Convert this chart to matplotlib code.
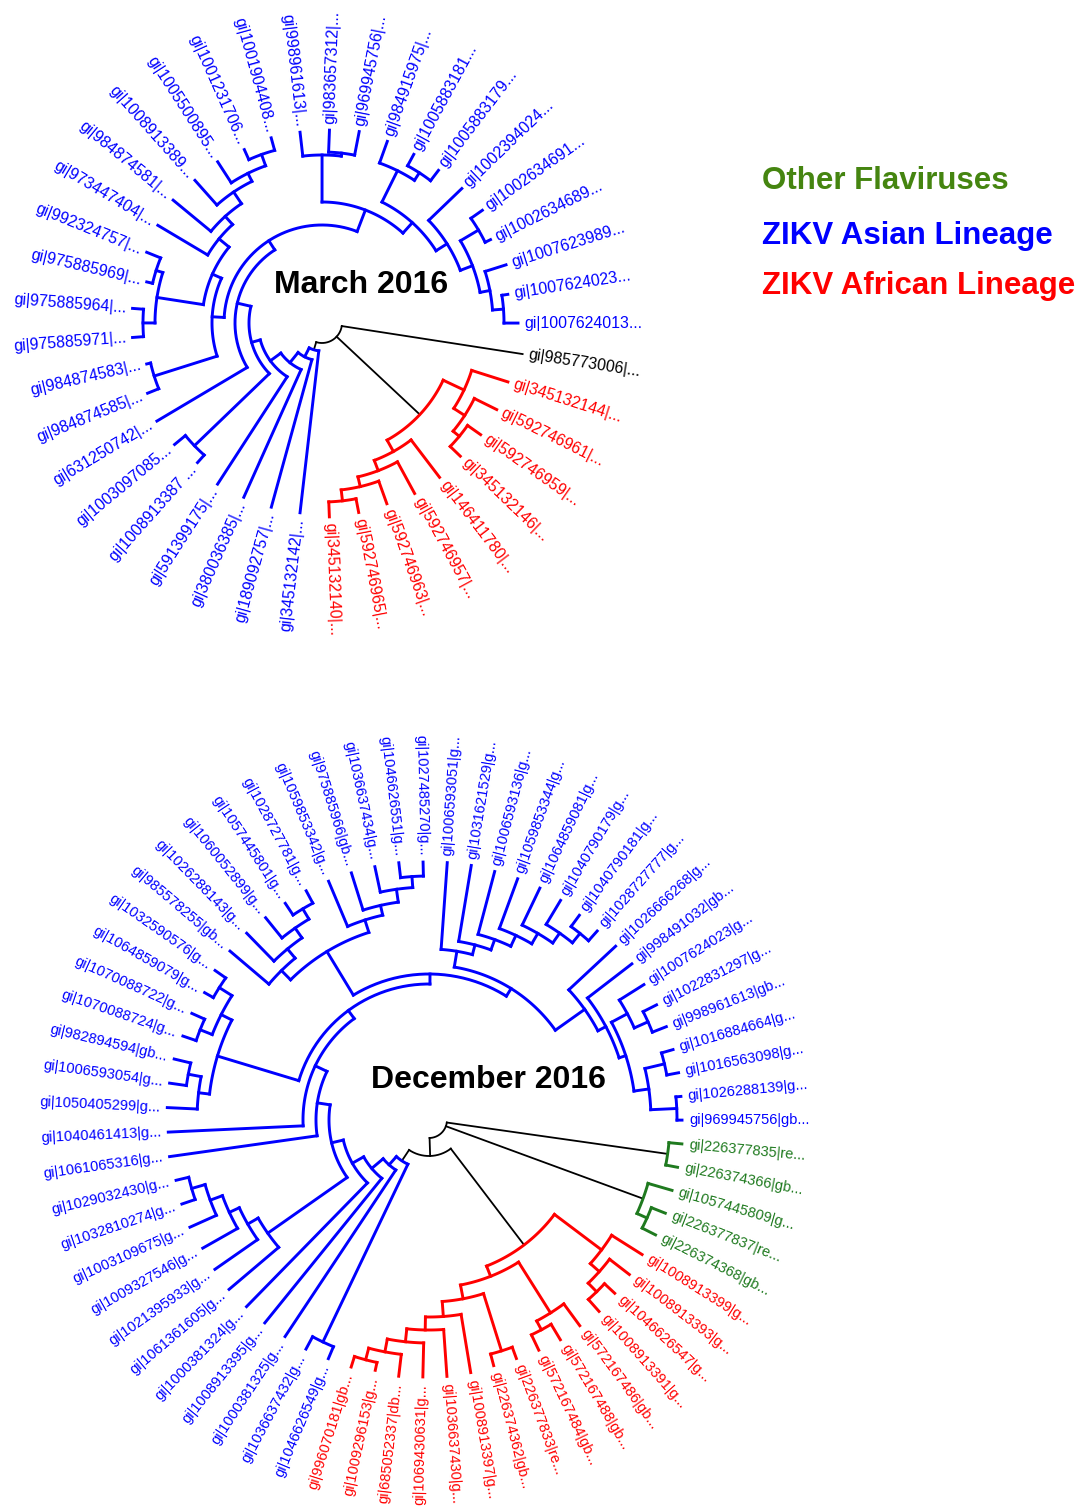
import numpy as np
import matplotlib
matplotlib.use("Agg")
import matplotlib.pyplot as plt

plt.rcParams['font.family'] = ['Liberation Sans', 'DejaVu Sans']

W, H = 1079, 1506

COLOURS = {'asian': '#0000ff', 'african': '#ff0000', 'other': '#1f7a1f', 'none': 'black'}

# ---- March 2016 tree (branch lengths in tree units) ----
MARCH_AFRICAN = ("((345132144:38,(592746961:25,(592746959:16,345132146:14):8):13):23,"
                 "(146411780:47,(592746957:36,(592746963:24,(592746965:14,345132140:15):11):10):11):13)")
MARCH_ASIAN_LEFT = ("((984874585:12,984874583:4):66,(((975885971:11,975885964:11):12,"
                    "(975885969:6,992324757:15):7):47,(973447404:58,(984874581:49,(1008913389:33,"
                    "(1005500895:25,(1001231706:11,1001904408:13):12):9):14):11):13):10)")
MARCH_ASIAN_TOP = ("((998961613:24,(983657312:22,969945756:24):3):47,((984915975:23,"
                   "(1005883181:13,1005883179:13):9):35,(1002394024:46,((1002634691:14,1002634689:6):21,"
                   "(1007623989:22,(1007624023:6,1007624013:14):11):10):13):13):14)")
MARCH_ASIAN = ("(345132142:163,(189092757:153,(380036385:140,(591399175:128,"
               "((1008913387:10,1003097085:14):104,(631250742:105,"
               f"({MARCH_ASIAN_LEFT}:12,{MARCH_ASIAN_TOP}:23):11):14):9):13):13):10)")
MARCH_NEWICK = f"(985773006:183,{MARCH_AFRICAN}:114,{MARCH_ASIAN}:8):20;"

MARCH_LABELS = [
    "gi|985773006|...",
    "gi|345132144|...", "gi|592746961|...", "gi|592746959|...", "gi|345132146|...",
    "gi|146411780|...", "gi|592746957|...", "gi|592746963|...", "gi|592746965|...",
    "gi|345132140|...",
    "gi|345132142|...", "gi|189092757|...", "gi|380036385|...", "gi|591399175|...",
    "gi|1008913387 ...", "gi|1003097085...", "gi|631250742|...", "gi|984874585|...",
    "gi|984874583|...", "gi|975885971|...", "gi|975885964|...", "gi|975885969|...",
    "gi|992324757|...", "gi|973447404|...", "gi|984874581|...", "gi|1008913389...",
    "gi|1005500895...", "gi|1001231706...", "gi|1001904408...", "gi|998961613|...",
    "gi|983657312|...", "gi|969945756|...", "gi|984915975|...", "gi|1005883181...",
    "gi|1005883179...", "gi|1002394024...", "gi|1002634691...", "gi|1002634689...",
    "gi|1007623989...", "gi|1007624023...", "gi|1007624013...",
]
MARCH_GROUPS = ['none'] + ['african'] * 9 + ['asian'] * 31

# ---- December 2016 tree ----
DEC_AFRICAN = ("((1008913399:36,(1008913393:25,(1046626547:14,1008913391:16):12):12):59,"
               "((572167486:27,(572167488:18,572167484:17):10):60,((226377833:12,226374362:12):60,"
               "(1008913397:59,(1036637430:47,(1069430631:34,(685052337:22,(1009296153:8,"
               "996070181:11):12):13):13):13):15):14):11)")
DEC_COMB = ("(1061361605:65,(1021395933:52,(1009327546:40,(1003109675:29,"
            "(1032810274:14,1029032430:13):14):13):11):12)")
DEC_LEFT = ("((1050405299:30,(1006593054:17,982894594:17):13):11,"
            "((1070088724:14,1070088722:14):13,(1064859079:10,1032590576:13):15):12)")
DEC_UPPER = ("((985578255:51,(1026288143:39,(1060052899:26,(1057445801:14,1028727781:14):12):12):12):13,"
             "(1059853342:49,(975885966:39,(1036637434:26,(1046626551:15,1027485270:14):11):13):10):13)")
DEC_TOP = ("(1006593051:87,(1031621529:77,(1006593136:65,(1059853344:53,(1064859081:41,"
           "(1040790179:28,(1040790181:14,1028727777:13):12):12):12):12):11):10)")
DEC_RIGHT = ("(1026666268:64,(998491032:56,((1007624023:29,(1022831297:15,998961613:15):15):18,"
             "((1016884664:12,1016563098:12):20,(1026288139:5,969945756:5):26):15):7):9)")
DEC_ASIAN = ("((1046626549:13,1036637432:14):197,(1000381325:200,(1008913395:186,(1000381324:173,"
             f"({DEC_COMB}:97,(1061065316:149,(1040461413:135,({DEC_LEFT}:85,"
             f"({DEC_UPPER}:51,({DEC_TOP}:16,{DEC_RIGHT}:36):9):10):10):13):13):12):13):15):11)")
DEC_NEWICK = ("((226377835:13,226374366:12):223,(1057445809:25,(226377837:15,226374368:15):11):210,"
              f"({DEC_AFRICAN}:121,{DEC_ASIAN}:13):18):18;")

DEC_LABELS = [
    "gi|226377835|re...", "gi|226374366|gb...", "gi|1057445809|g...", "gi|226377837|re...",
    "gi|226374368|gb...",
    "gi|1008913399|g...", "gi|1008913393|g...", "gi|1046626547|g...", "gi|1008913391|g...",
    "gi|572167486|gb...", "gi|572167488|gb...", "gi|572167484|gb...", "gi|226377833|re...",
    "gi|226374362|gb...", "gi|1008913397|g...", "gi|1036637430|g...", "gi|1069430631|g...",
    "gi|685052337|db...", "gi|1009296153|g...", "gi|996070181|gb...",
    "gi|1046626549|g...", "gi|1036637432|g...", "gi|1000381325|g...", "gi|1008913395|g...",
    "gi|1000381324|g...", "gi|1061361605|g...", "gi|1021395933|g...", "gi|1009327546|g...",
    "gi|1003109675|g...", "gi|1032810274|g...", "gi|1029032430|g...", "gi|1061065316|g...",
    "gi|1040461413|g...", "gi|1050405299|g...", "gi|1006593054|g...", "gi|982894594|gb...",
    "gi|1070088724|g...", "gi|1070088722|g...", "gi|1064859079|g...", "gi|1032590576|g...",
    "gi|985578255|gb...", "gi|1026288143|g...", "gi|1060052899|g...", "gi|1057445801|g...",
    "gi|1028727781|g...", "gi|1059853342|g...", "gi|975885966|gb...", "gi|1036637434|g...",
    "gi|1046626551|g...", "gi|1027485270|g...", "gi|1006593051|g...", "gi|1031621529|g...",
    "gi|1006593136|g...", "gi|1059853344|g...", "gi|1064859081|g...", "gi|1040790179|g...",
    "gi|1040790181|g...", "gi|1028727777|g...", "gi|1026666268|g...", "gi|998491032|gb...",
    "gi|1007624023|g...", "gi|1022831297|g...", "gi|998961613|gb...", "gi|1016884664|g...",
    "gi|1016563098|g...", "gi|1026288139|g...", "gi|969945756|gb...",
]
DEC_GROUPS = ['other'] * 5 + ['african'] * 15 + ['asian'] * 47

LEGEND = [("Other Flaviruses", '#458510'), ("ZIKV Asian Lineage", '#0000ff'),
          ("ZIKV African Lineage", '#ff0000')]


def parse_newick(text):
    text = "".join(text.split()).rstrip(';')
    pos = 0

    def node():
        nonlocal pos
        n = {'children': [], 'name': '', 'length': 0.0}
        if text[pos] == '(':
            pos += 1
            while True:
                n['children'].append(node())
                if text[pos] == ',':
                    pos += 1
                    continue
                pos += 1
                break
        start = pos
        while pos < len(text) and text[pos] not in ':,()':
            pos += 1
        n['name'] = text[start:pos]
        if pos < len(text) and text[pos] == ':':
            pos += 1
            start = pos
            while pos < len(text) and text[pos] not in ',()':
                pos += 1
            n['length'] = float(text[start:pos])
        return n

    return node()


def layout(root, start_angle):
    leaves = []

    def walk(n, depth):
        n['depth'] = depth
        for c in n['children']:
            walk(c, depth + c['length'])
        if not n['children']:
            leaves.append(n)

    walk(root, root['length'])
    step = 360.0 / len(leaves)
    for j, leaf in enumerate(leaves):
        leaf['angle'] = start_angle - j * step

    def set_angle(n):
        if n['children']:
            for c in n['children']:
                set_angle(c)
            n['angle'] = 0.5 * (n['children'][0]['angle'] + n['children'][-1]['angle'])

    set_angle(root)
    return leaves


def set_groups(n):
    if n['children']:
        gs = {set_groups(c) for c in n['children']}
        n['group'] = gs.pop() if len(gs) == 1 else 'none'
    return n['group']


def polar(cx, cy, r, a):
    t = np.radians(a)
    return cx + r * np.cos(t), cy - r * np.sin(t)


def draw_tree(ax, newick, labels, groups, cx, cy, start_angle, fontsize, gap):
    root = parse_newick(newick)
    leaves = layout(root, start_angle)
    assert len(leaves) == len(labels)
    for leaf, lab, g in zip(leaves, labels, groups):
        assert leaf['name'] in lab
        leaf['group'] = g
        leaf['label'] = lab
    set_groups(root)

    def draw(n):
        if not n['children']:
            return
        col = COLOURS[n['group']]
        lw = 1.3 if n['group'] == 'none' else 2.1
        a0, a1 = n['children'][0]['angle'], n['children'][-1]['angle']
        ang = np.linspace(a0, a1, int(abs(a1 - a0) * 2) + 2)
        x, y = polar(cx, cy, n['depth'], ang)
        ax.plot(x, y, color=col, lw=lw, solid_capstyle='projecting')
        for c in n['children']:
            x, y = polar(cx, cy, np.array([n['depth'], c['depth']]), c['angle'])
            ax.plot(x, y, color=col, lw=lw, solid_capstyle='projecting')
            draw(c)

    draw(root)

    for leaf in leaves:
        a = (leaf['angle'] + 180.0) % 360.0 - 180.0
        x, y = polar(cx, cy, leaf['depth'] + gap, a)
        if -90.0 <= a <= 90.0:
            rot, ha = a, 'left'
        else:
            rot, ha = a - 180.0, 'right'
        ax.text(x, y, leaf['label'], rotation=rot, rotation_mode='anchor', ha=ha, va='center',
                fontsize=fontsize, color=COLOURS[leaf['group']])


fig = plt.figure(figsize=(W / 100, H / 100), dpi=100)
ax = fig.add_axes([0, 0, 1, 1])
ax.set_xlim(0, W)
ax.set_ylim(H, 0)
ax.axis('off')

draw_tree(ax, MARCH_NEWICK, MARCH_LABELS, MARCH_GROUPS, 322, 323, -8.8, 11.4, 6)
draw_tree(ax, DEC_NEWICK, DEC_LABELS, DEC_GROUPS, 429, 1120, -5.4, 10.5, 7)

ax.text(361, 285, "March 2016", fontsize=23, fontweight='bold', ha='center', va='center')
ax.text(488, 1080, "December 2016", fontsize=23, fontweight='bold', ha='center', va='center')

for (text, col), y in zip(LEGEND, [181, 236, 286]):
    ax.text(762, y, text, fontsize=22.5, fontweight='bold', color=col, ha='left', va='center')

fig.savefig("out.png", dpi=100)
